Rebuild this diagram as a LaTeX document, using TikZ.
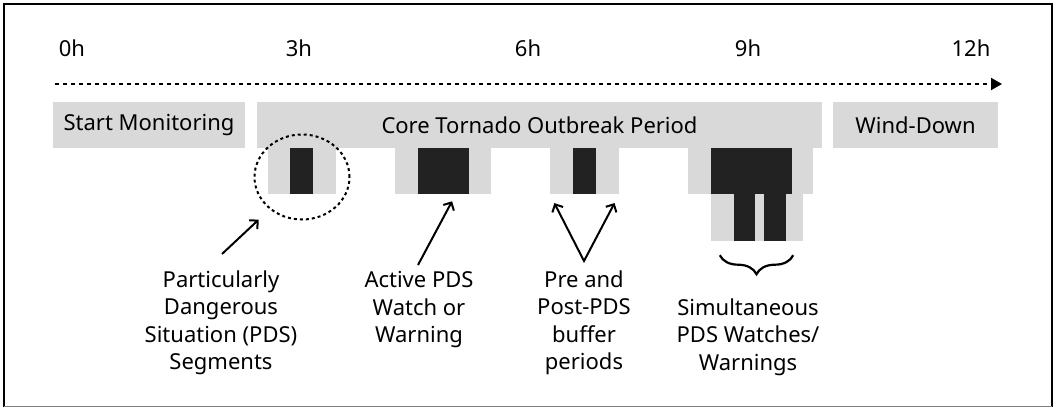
\documentclass[tikz,border=0pt]{standalone}
\usepackage{fontspec}
\setmainfont{Noto Sans}
\usetikzlibrary{arrows.meta,decorations.pathreplacing,shapes.geometric}
\definecolor{slotgrey}{RGB}{217,217,217}
\definecolor{pdsblack}{RGB}{34,34,34}

\begin{document}
\begin{tikzpicture}[x=1pt,y=-1pt,
  every node/.style={font=\fontsize{22}{27.5}\selectfont, text=black},
  >={Straight Barb[length=6pt,width=12pt]},
  phase/.style={fill=slotgrey, minimum height=46pt, inner sep=0pt},
  slot/.style={fill=slotgrey, minimum height=46pt, inner sep=0pt},
  pds/.style={fill=pdsblack, minimum height=46pt, inner sep=0pt},
  note/.style={align=center, inner sep=0pt},
  pointer/.style={->, line width=2pt}]
\useasboundingbox (0,0) rectangle (1054,408);
\draw[line width=2pt] (4,407) -- (4,4) -- (1052,4) -- (1052,407);
\draw[gray, line width=1pt] (4,406.5) -- (1052,406.5);

% time axis
\node (h0) at (72,48) {0h};
\node (h3) at (299,48) {3h};
\node (h6) at (528,48) {6h};
\node (h9) at (748,48) {9h};
\node (h12) at (971,48) {12h};
\coordinate (axstart) at (55,84);
\coordinate (axend) at (1002,84);
\draw[line width=2pt, dash pattern=on 4pt off 4pt, -{Triangle[length=11pt,width=12pt]}] (axstart) -- (axend);

% phases
\node[phase, minimum width=192pt] (start) at (149,125) {Start Monitoring};
\node[phase, minimum width=565pt] (core) at (539.5,125) {Core Tornado Outbreak Period};
\node[phase, minimum width=165pt] (wind) at (915.5,125) {Wind-Down};

% PDS slots
\node[slot, minimum width=68pt] (seg) at (302,171) {};
\node[pds, minimum width=23pt] (segpds) at (301.5,171) {};
\node[slot, minimum width=96pt] (watch) at (443,171) {};
\node[pds, minimum width=51pt] (act) at (443.5,171) {};
\node[slot, minimum width=69pt] (buf) at (584.5,171) {};
\node[pds, minimum width=23pt] (bufpds) at (584.5,171) {};
\node[slot, minimum width=125pt] (sim) at (750.5,171) {};
\node[pds, minimum width=81pt] (simpds) at (751.5,171) {};
\node[slot, minimum width=92pt, minimum height=47pt] (simlow) at (757,217.5) {};
\node[pds, minimum width=21pt, minimum height=47pt] (simbara) at (744.5,217.5) {};
\node[pds, minimum width=22pt, minimum height=47pt] (simbarb) at (775,217.5) {};

\node[draw, ellipse, line width=2pt, dash pattern=on 3pt off 3pt, minimum width=95pt, minimum height=85pt, inner sep=0pt] (pdsring) at (302,177) {};

% notes
\node[note] (pdslbl) at (221,323) {Particularly\\Dangerous\\Situation (PDS)\\Segments};
\node[note] (actlbl) at (419,310) {Active PDS\\Watch or\\Warning};
\node[note] (buflbl) at (584,323) {Pre and\\Post-PDS\\buffer\\periods};
\node[note] (simlbl) at (748,337) {Simultaneous\\PDS Watches/\\Warnings};

\coordinate (pdstail) at (222,254);
\draw[pointer, shorten >=15pt] (pdstail) -- (pdsring.225);
\coordinate (acttail) at (418,265);
\draw[pointer, shorten >=8pt] (acttail) -- (act.-62);
\coordinate (buftail) at (584,261);
\draw[pointer, <->, shorten <=10pt, shorten >=10pt] (buf.south west) -- (buftail) -- (buf.south east);
\draw[line width=2.2pt, decorate, decoration={brace, mirror, amplitude=19pt}]
  ([xshift=9pt,yshift=-14pt]simlow.south west) -- ([xshift=-10pt,yshift=-14pt]simlow.south east);
\end{tikzpicture}
\end{document}
